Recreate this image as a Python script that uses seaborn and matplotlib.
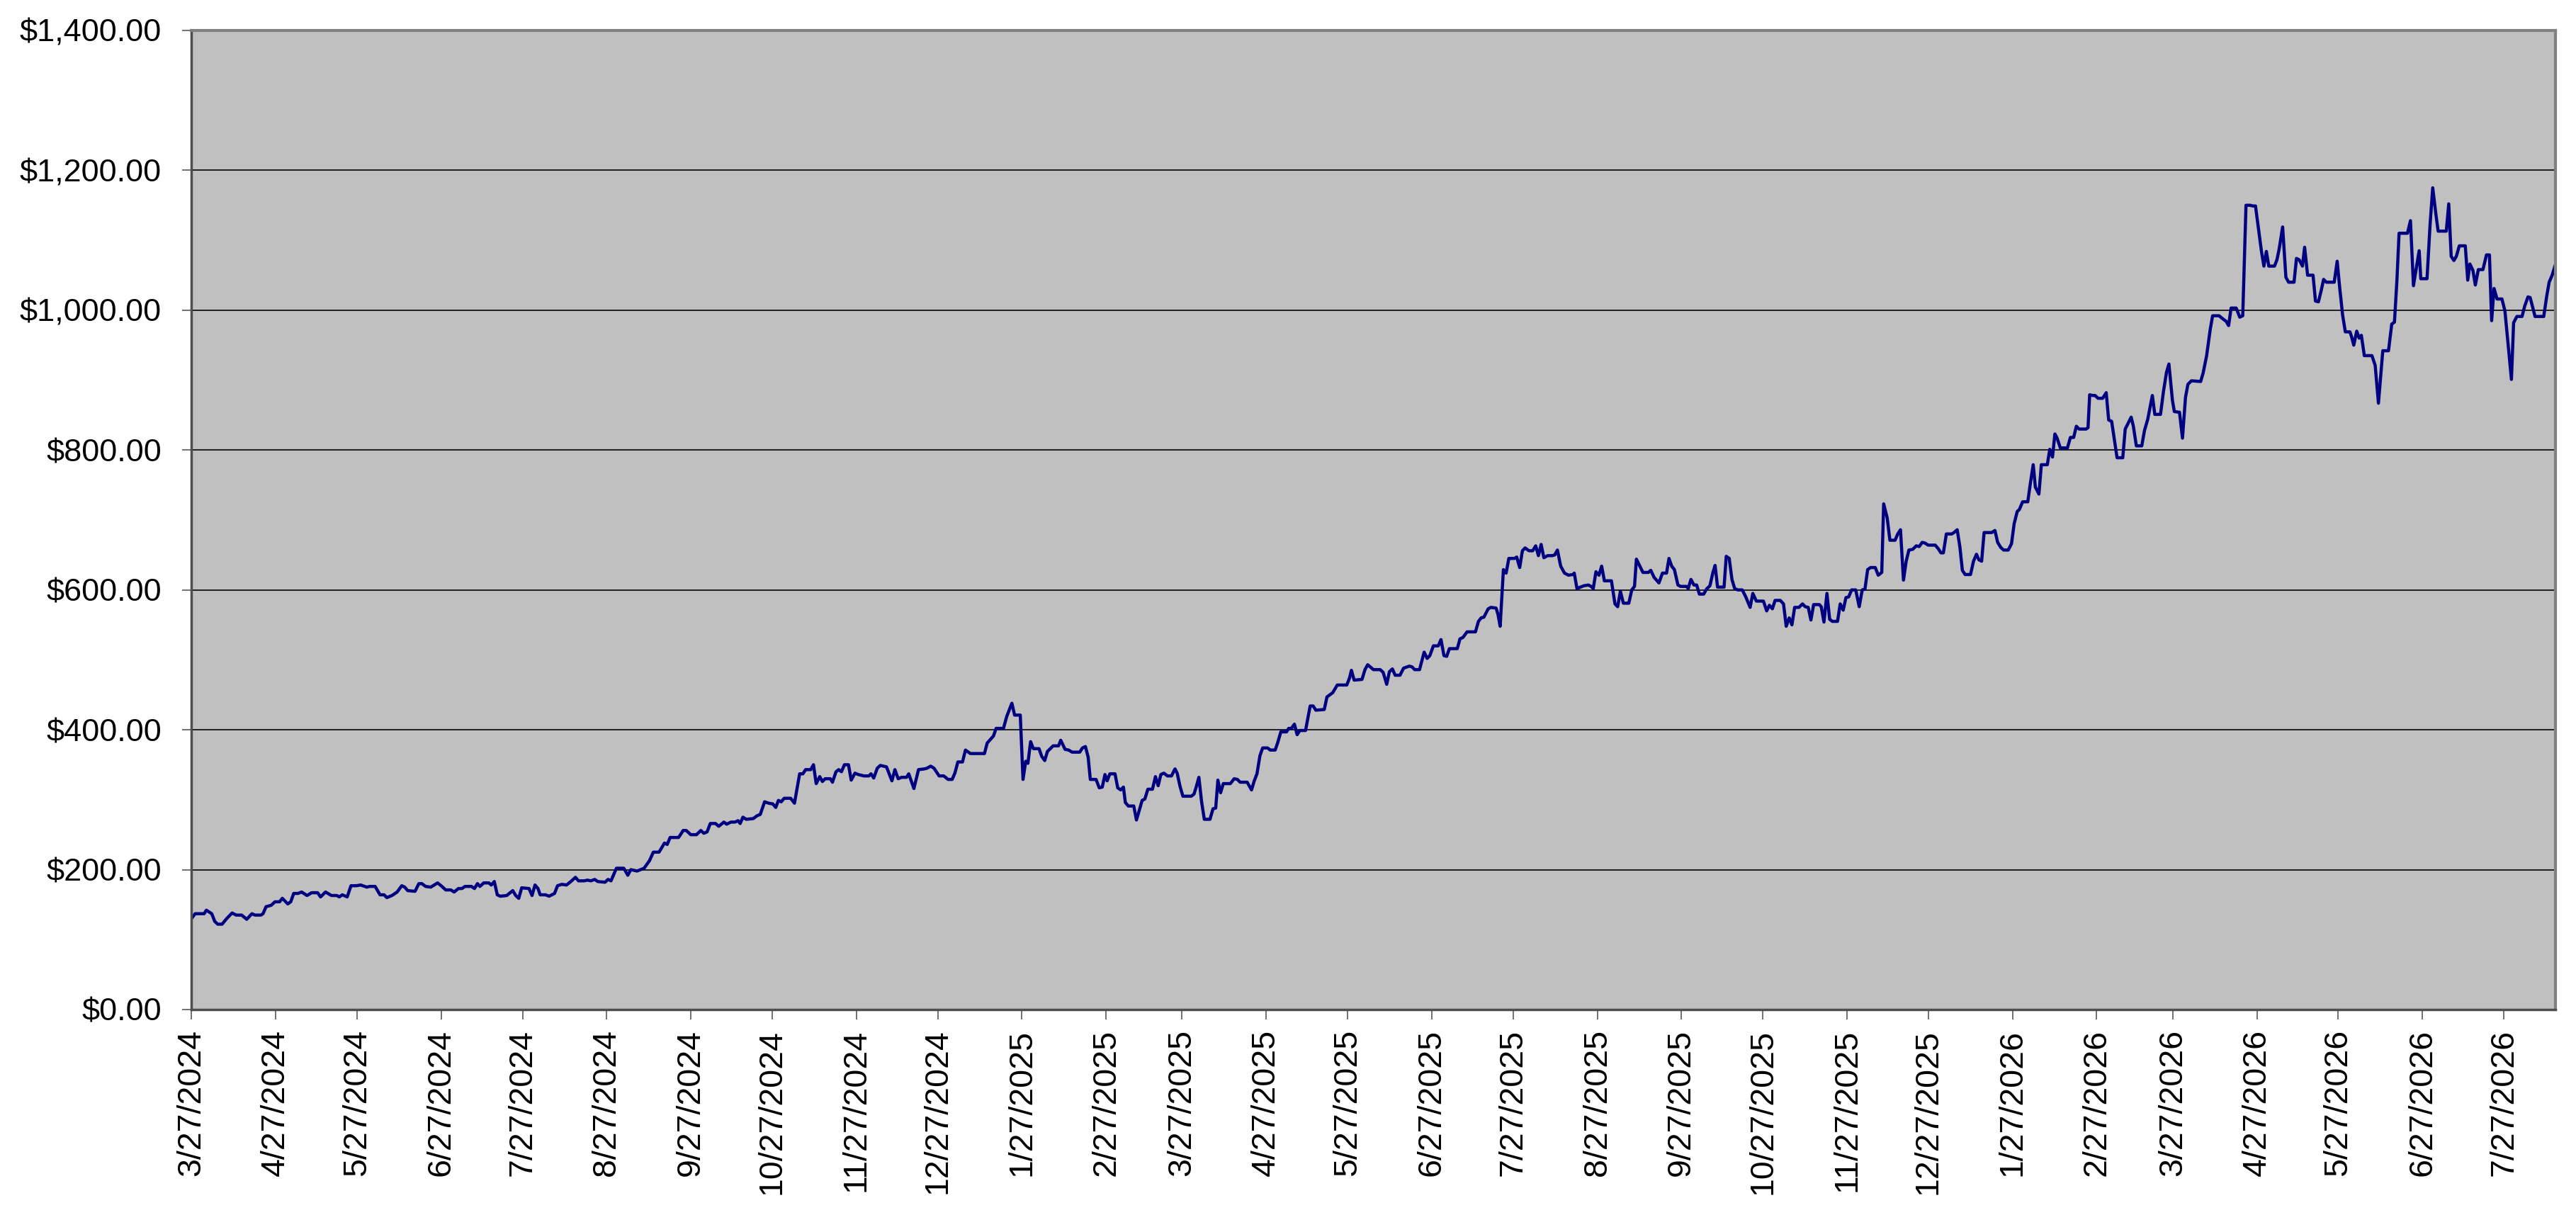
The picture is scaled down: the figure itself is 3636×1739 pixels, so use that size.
import pandas as pd
import matplotlib
matplotlib.use("Agg")
from matplotlib import pyplot as plt
import matplotlib.dates as mdates
from matplotlib.ticker import FuncFormatter, MultipleLocator
import seaborn as sns

sns.set_theme(style="white")
plt.rcParams['font.family'] = ['Liberation Sans', 'DejaVu Sans']

# Series: days after the start date, and the value in dollars
start_date = "2024-03-27"

# Mar - Aug 2024
days_a = [0, 1.4, 4.7, 5.5, 7.5, 8.6, 9.7, 11.3, 13, 15,
          16.5, 18.5, 20.4, 22.3, 23.4, 25.6, 26.4, 27.5, 29.4, 30.8,
          32.5, 33.5, 35.5, 36.6, 37.7, 39.3, 40.6, 42.6, 44.3, 46.5,
          47.6, 49.4, 51.6, 53.6, 54.5, 55.6, 57.4, 58.8, 60.7, 62.4,
          64.6, 65.7, 67.7, 69.5, 71, 72, 73.9, 75.8, 77.5, 78.6,
          79.7, 82.4, 83.8, 84.9, 86.3, 88.2, 90.7, 92, 93.7, 95.6,
          96.8, 98.4, 99.7, 100.8, 103.2, 104.3, 105.4, 106.3, 107.7, 109.6,
          110.5, 111.6, 112.7, 113.8, 116.2, 118.4, 119.5, 120.6, 121.7, 124.4,
          125.5, 126.6, 127.7, 128.5, 130.5, 131.8, 133.8, 134.9, 136.5, 138.2,
          139.8, 141.5, 142.6, 144.8, 145.9, 147.2, 148.6, 149.7, 152.4, 153.5,
          154.6, 156.6, 159.3, 160.8, 161.9]
vals_a = [130, 137, 137, 142, 137, 126, 122, 122, 130, 138,
          135, 135, 129, 137, 135, 135, 137, 147, 149, 154,
          154, 159, 151, 154, 166, 166, 168, 163, 167, 167,
          161, 168, 163, 163, 161, 164, 161, 177, 177, 178,
          175, 176, 176, 164, 164, 160, 163, 168, 177, 175,
          170, 169, 180, 180, 176, 175, 181, 177, 171, 171,
          168, 173, 173, 176, 176, 173, 180, 176, 181, 181,
          178, 183, 164, 162, 163, 170, 163, 159, 174, 173,
          163, 178, 173, 164, 164, 162, 166, 177, 179, 178,
          183, 189, 184, 184, 185, 184, 186, 183, 182, 186,
          184, 202, 202, 192, 200]

# Aug 2024 - Feb 2025
days_b = [164.2, 166.8, 168.8, 170.2, 172.3, 174.3, 175.3, 176.4, 179.5, 181.2,
          182.3, 184, 186.1, 187.7, 188.8, 190, 191.2, 193.1, 194.3, 196.2,
          197.2, 198.8, 200.3, 201.4, 202.2, 203.2, 204.4, 207, 208.4, 209.6,
          211.2, 212.7, 214.2, 215.3, 216.3, 217.3, 218.4, 220.8, 222.2, 224.1,
          225.3, 226.3, 228.2, 229.2, 230.2, 231.5, 232.5, 233.5, 235.4, 236.2,
          237.5, 238.5, 239.5, 240.6, 242.1, 243.1, 244.5, 245.7, 247.8, 249.6,
          250.4, 251.4, 252.7, 253.8, 256.1, 258.1, 259.2, 260.4, 261.7, 263.5,
          264.3, 266.2, 267.9, 270, 271, 272.4, 273.6, 275.5, 277.2, 278.8,
          280.3, 281.3, 282.4, 284.1, 285.2, 287, 289.6, 292.2, 293.2, 295.5,
          296.5, 299.2, 300.4, 302.3, 303.3, 305.4, 306.4, 307.4, 308.2, 309.2,
          310.2, 312.3, 313.3, 314.4, 315.4, 317.5, 319.5, 320.3]
vals_b = [198, 202, 213, 225, 225, 238, 236, 246, 246, 256,
          256, 250, 250, 256, 252, 254, 266, 266, 262, 268,
          265, 268, 268, 270, 266, 275, 272, 273, 277, 279,
          297, 295, 294, 289, 299, 297, 302, 302, 295, 337,
          337, 343, 343, 350, 323, 333, 326, 330, 330, 325,
          340, 343, 340, 350, 350, 328, 338, 336, 334, 334,
          337, 331, 345, 349, 347, 327, 343, 330, 332, 332,
          337, 316, 343, 344, 345, 348, 345, 334, 334, 329,
          329, 338, 354, 354, 371, 366, 366, 366, 381, 391,
          402, 402, 419, 438, 421, 421, 329, 355, 352, 383,
          373, 373, 362, 356, 369, 377, 377, 385]

# Feb - Jul 2025
days_c = [321.9, 323.2, 324.5, 327.3, 328.3, 329.4, 330.4, 331.2, 333.3, 334.5,
          335.6, 336.6, 337.4, 338.4, 340.3, 341.3, 342.4, 343.4, 344.1, 345.2,
          347.2, 348.2, 350.3, 351.3, 352.4, 354.1, 355.2, 356.2, 357.2, 358.3,
          359.6, 361.1, 362.4, 363.2, 364.2, 365.3, 368.4, 369.4, 370.2, 371.2,
          372.2, 373.2, 375.3, 376.4, 377.4, 378.2, 379.2, 380.2, 382.8, 384.2,
          385.4, 386.4, 389, 390.6, 391.6, 392.6, 393.7, 394.7, 396.5, 397.5,
          399.3, 400.2, 401.4, 403.5, 404.3, 405.3, 406.4, 407.4, 408.4, 410.5,
          412.2, 413.3, 414.3, 417.4, 418.4, 419.8, 420.5, 422.2, 425.7, 426.7,
          427.4, 428.4, 431.3, 432.4, 433.4, 435.5, 438, 439.1, 440.4, 441.4,
          442.5, 443.5, 445.3, 446.6, 448.7, 449.7, 450.7, 452.5, 454.2, 455.3,
          456.3, 457.6, 459.4, 460.4, 461.5, 462.5, 463.5, 466.4, 467.4, 468.5,
          470, 473.1, 474.2, 475.2, 476.2, 477.8, 478.8, 480.7, 481.4, 482.2]
vals_c = [372, 371, 368, 368, 374, 376, 361, 329, 329, 317,
          318, 336, 327, 337, 337, 317, 314, 318, 296, 291,
          291, 271, 299, 301, 315, 315, 333, 320, 336, 338,
          334, 334, 344, 338, 320, 305, 305, 308, 318, 332,
          297, 272, 272, 287, 288, 328, 310, 323, 323, 330,
          329, 325, 325, 314, 327, 337, 363, 374, 374, 371,
          371, 381, 397, 397, 402, 402, 408, 393, 399, 399,
          434, 434, 428, 429, 447, 451, 453, 464, 464, 474,
          485, 471, 472, 486, 493, 486, 486, 482, 465, 483,
          487, 478, 478, 488, 491, 490, 486, 486, 511, 502,
          506, 520, 520, 529, 506, 505, 516, 516, 530, 532,
          540, 540, 555, 560, 561, 573, 575, 574, 565, 548]

# Jul - Dec 2025
days_d = [483.4, 484.4, 485.4, 487.5, 488.3, 489.4, 490.4, 491.4, 492.8, 494.2,
          495.3, 496.3, 497.3, 498.3, 499.7, 501.4, 502.3, 503.3, 504.5, 505.9,
          507.4, 509, 509.5, 510.5, 513.1, 514.7, 515.7, 516.5, 517.5, 518.6,
          519.6, 520.6, 523.2, 524.5, 525.5, 526.5, 527.6, 529.6, 530.7, 531.7,
          532.4, 534.8, 536.8, 537.7, 538.9, 540.7, 542, 543.5, 544.4, 545.4,
          546.4, 547.7, 548.7, 550.8, 551.5, 552.5, 553.6, 554.6, 555.6, 557.2,
          558.2, 559.5, 560.6, 561.4, 562.3, 564.7, 565.5, 566.6, 567.6, 568.6,
          569.7, 571.4, 572.7, 574.3, 575.3, 576.6, 579.2, 580.4, 581.4, 582.5,
          583.5, 585.4, 586.6, 587.6, 588.7, 589.7, 590.7, 592.3, 593.6, 594.6,
          595.7, 596.7, 597.7, 599.8, 600.5, 601.5, 602.6, 603.6, 604.6, 606.5,
          607.5, 608.6, 609.6, 610.6, 611.7, 613.2, 614.5, 615.6, 616.6, 617.6,
          618.7, 620.4, 621.5, 622.8, 623.5, 624.8, 625.8, 627.7, 628.7, 629.7,
          630.8, 631.8, 632.8]
vals_d = [629, 624, 645, 645, 647, 632, 656, 660, 656, 656,
          663, 649, 665, 646, 649, 649, 650, 657, 634, 624,
          621, 622, 624, 602, 606, 607, 605, 602, 626, 621,
          634, 613, 613, 580, 576, 598, 581, 581, 600, 605,
          644, 625, 625, 628, 618, 610, 624, 624, 645, 634,
          629, 607, 605, 605, 602, 615, 607, 607, 594, 594,
          601, 606, 625, 635, 604, 604, 648, 645, 615, 602,
          600, 600, 590, 575, 595, 584, 584, 570, 578, 573,
          585, 585, 580, 548, 560, 550, 575, 575, 580, 576,
          575, 557, 579, 579, 576, 554, 595, 558, 555, 555,
          580, 571, 589, 590, 600, 600, 576, 600, 601, 629,
          632, 632, 621, 625, 723, 703, 671, 671, 680, 686,
          614, 641, 657]

# Dec 2025 - Apr 2026
days_e = [634.2, 635.5, 636.6, 637.7, 638.7, 639.9, 642.5, 643.6, 644.6, 645.5,
          646.6, 648.6, 649.4, 650.6, 651.6, 652.5, 653.5, 655.5, 656.6, 657.7,
          658.6, 659.6, 660.5, 662, 663.3, 664.5, 665.5, 666.6, 667.7, 669.4,
          670.6, 671.6, 672.7, 673.5, 674.7, 676.6, 677.5, 678.6, 679.4, 680.7,
          681.6, 683.8, 684.7, 685.7, 686.6, 687.4, 688.6, 691.2, 692.3, 693.5,
          694.5, 695.5, 698.1, 698.8, 699.4, 700.5, 701.4, 702.5, 704.2, 705.5,
          706.4, 707.5, 709.5, 711.6, 712.5, 713.4, 714.7, 715.5, 716.6, 718.6,
          719.6, 720.8, 722.5, 723.4, 725.5, 726.6, 727.7, 728.6, 729.9, 730.6,
          732.5, 733.6, 734.7, 735.6, 736.9, 740.3, 741.2, 742.5, 743.8, 744.7,
          747.1, 748, 749.7, 750.6, 751.5, 753.4, 754.7, 755.8, 757, 758.5]
vals_e = [658, 663, 662, 668, 667, 664, 664, 659, 653, 653,
          680, 680, 682, 686, 661, 628, 622, 622, 641, 651,
          643, 641, 682, 682, 682, 685, 668, 661, 657, 657,
          666, 695, 712, 715, 726, 726, 751, 779, 747, 737,
          779, 779, 801, 790, 823, 817, 803, 803, 818, 818,
          834, 830, 830, 832, 879, 878, 878, 874, 874, 882,
          843, 841, 789, 789, 830, 837, 847, 834, 806, 806,
          828, 844, 878, 851, 851, 884, 911, 923, 871, 855,
          854, 817, 875, 894, 899, 898, 910, 935, 972, 992,
          992, 989, 984, 978, 1003, 1003, 990, 992, 1150, 1150]

# Apr - Aug 2026
days_f = [759.5, 760.5, 761.7, 762.7, 763.6, 764.5, 765.4, 767.5, 768.4, 769.2,
          770.5, 771.7, 772.7, 774.7, 775.6, 776.6, 777.8, 778.6, 779.7, 781.7,
          782.6, 783.7, 784.7, 785.6, 786.6, 789.5, 790.6, 791.5, 792.6, 793.6,
          795.3, 795.9, 796.7, 797.8, 798.7, 799.5, 800.6, 803.4, 804.6, 805.8,
          807.4, 809.5, 810.7, 811.7, 812.6, 813.4, 816.5, 817.6, 818.7, 820.8,
          821.4, 823.7, 824.8, 825.8, 827, 827.8, 830.8, 831.7, 832.6, 833.6,
          834.5, 835.6, 837.8, 838.7, 839.5, 840.6, 841.5, 842.6, 844.3, 845.6,
          846.7, 847.5, 848.4, 849.5, 851.3, 852.4, 854.8, 855.6, 856.8, 858.7,
          859.7, 860.9, 861.7, 863.5, 866.7, 867.8, 868.7, 869.8, 870.9]
vals_f = [1149, 1149, 1114, 1084, 1063, 1084, 1063, 1063, 1072, 1087,
          1119, 1047, 1040, 1040, 1074, 1072, 1063, 1090, 1050, 1050,
          1013, 1012, 1028, 1044, 1040, 1040, 1070, 1033, 993, 969,
          969, 962, 950, 970, 960, 964, 935, 935, 921, 867,
          942, 942, 980, 983, 1042, 1110, 1110, 1128, 1035, 1085,
          1045, 1045, 1121, 1175, 1136, 1113, 1113, 1152, 1077, 1071,
          1077, 1092, 1092, 1043, 1066, 1057, 1036, 1058, 1058, 1079,
          1079, 985, 1031, 1016, 1016, 999, 901, 982, 991, 991,
          1006, 1019, 1018, 991, 991, 1020, 1040, 1050, 1064]

day_offset = days_a + days_b + days_c + days_d + days_e + days_f
value = vals_a + vals_b + vals_c + vals_d + vals_e + vals_f
assert len(day_offset) == len(value)

df = pd.DataFrame({
    "date": pd.to_datetime(start_date) + pd.to_timedelta(day_offset, unit="D"),
    "value": value,
})

# Figure and axes placed to match the reference
fig = plt.figure(figsize=(36.36, 17.39), dpi=100)
ax = fig.add_axes([0.0743, 0.1806, 0.9176, 0.7947])
ax.set_facecolor("#C0C0C0")

sns.lineplot(data=df, x="date", y="value", estimator=None, sort=False,
             color="#000080", linewidth=3.2, ax=ax)

# Axis ranges
ax.set_xlim(df["date"].iloc[0], df["date"].iloc[-1])
ax.set_ylim(0, 1400)

# Y axis: dollar labels every 200
ax.yaxis.set_major_locator(MultipleLocator(200))
ax.yaxis.set_major_formatter(FuncFormatter(lambda v, pos: "${:,.2f}".format(v)))

# X axis: one tick on the 27th of every month
ax.xaxis.set_major_locator(mdates.MonthLocator(bymonthday=27))
def date_label(x, pos):
    d = mdates.num2date(x)
    return "{}/{}/{}".format(d.month, d.day, d.year)
ax.xaxis.set_major_formatter(FuncFormatter(date_label))

ax.tick_params(axis="y", which="major", direction="out", length=9.5, width=1.3,
               color="#666666", pad=21, labelsize=32.5, labelcolor="black", left=True)
ax.tick_params(axis="x", which="major", direction="out", length=10, width=1.3,
               color="#666666", pad=10, labelsize=33.5, labelcolor="black",
               labelrotation=90, bottom=True)

ax.set_xlabel("")
ax.set_ylabel("")

# Horizontal gridlines
ax.yaxis.grid(True, color="#111111", linewidth=1.3)
ax.xaxis.grid(False)
ax.set_axisbelow(True)

# Plot-area border
for side in ["top", "right"]:
    ax.spines[side].set_color("#808080")
    ax.spines[side].set_linewidth(3)
for side in ["left", "bottom"]:
    ax.spines[side].set_color("#4d4d4d")
    ax.spines[side].set_linewidth(2.5)

fig.savefig("out.png", dpi=100, facecolor="white")
